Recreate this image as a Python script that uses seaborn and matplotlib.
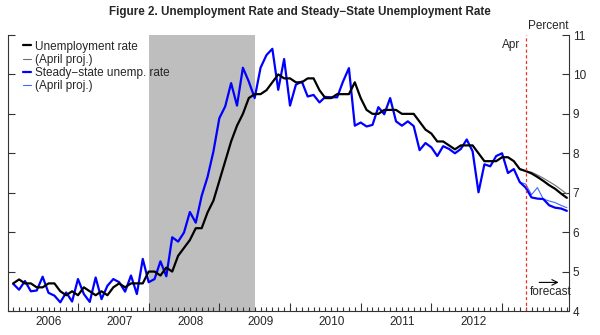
import numpy as np
import pandas as pd
import matplotlib
matplotlib.use("Agg")
import matplotlib.pyplot as plt
import seaborn as sns

# Monthly series (percent), January 2006 through November 2013
first_month = "2006-01"
unemployment_rate = [
    4.7, 4.8, 4.7, 4.7, 4.6, 4.6, 4.7, 4.7, 4.5, 4.4, 4.5, 4.4,        # 2006
    4.6, 4.5, 4.4, 4.5, 4.4, 4.6, 4.7, 4.6, 4.7, 4.7, 4.7, 5.0,        # 2007
    5.0, 4.9, 5.1, 5.0, 5.4, 5.6, 5.8, 6.1, 6.1, 6.5, 6.8, 7.3,        # 2008
    7.8, 8.3, 8.7, 9.0, 9.4, 9.5, 9.5, 9.6, 9.8, 10.0, 9.9, 9.9,       # 2009
    9.8, 9.8, 9.9, 9.9, 9.6, 9.4, 9.4, 9.5, 9.5, 9.5, 9.8, 9.4,        # 2010
    9.1, 9.0, 9.0, 9.1, 9.1, 9.1, 9.0, 9.0, 9.0, 8.8, 8.6, 8.5,        # 2011
    8.3, 8.3, 8.2, 8.1, 8.2, 8.2, 8.2, 8.0, 7.8, 7.8, 7.8, 7.9,        # 2012
    7.9, 7.8, 7.6, 7.55, 7.49, 7.40, 7.30, 7.19, 7.10, 6.98, 6.87,     # 2013
]
steady_state_rate = [
    4.69, 4.54, 4.76, 4.50, 4.52, 4.87, 4.46, 4.39, 4.22, 4.47, 4.24, 4.81,   # 2006
    4.43, 4.23, 4.85, 4.30, 4.64, 4.81, 4.73, 4.49, 4.90, 4.43, 5.32, 4.73,   # 2007
    4.81, 5.26, 4.88, 5.87, 5.76, 5.99, 6.51, 6.24, 6.92, 7.40, 8.05, 8.89,   # 2008
    9.19, 9.78, 9.21, 10.17, 9.82, 9.40, 10.17, 10.49, 10.65, 9.61, 10.39, 9.21,  # 2009
    9.74, 9.82, 9.44, 9.48, 9.29, 9.43, 9.42, 9.42, 9.82, 10.16, 8.70, 8.78,  # 2010
    8.68, 8.72, 9.17, 8.99, 9.40, 8.81, 8.70, 8.81, 8.69, 8.08, 8.26, 8.15,   # 2011
    7.93, 8.18, 8.11, 8.00, 8.11, 8.35, 8.05, 7.01, 7.72, 7.67, 7.93, 8.00,   # 2012
    7.50, 7.60, 7.27, 7.13, 6.88, 6.85, 6.84, 6.68, 6.62, 6.60, 6.54,         # 2013
]

# April projections, March 2013 through November 2013
proj_first_month = "2013-03"
april_proj_unemployment = [7.59, 7.55, 7.52, 7.45, 7.37, 7.28, 7.19, 7.08, 6.97]
april_proj_steady_state = [7.27, 7.22, 6.95, 7.13, 6.84, 6.79, 6.75, 6.68, 6.62]

# NBER recession and the April forecast marker
recession_months = ["2007-12", "2009-06"]
forecast_marker_month = "2013-04"
year_labels = [2006, 2007, 2008, 2009, 2010, 2011, 2012]
y_ticks = [4, 5, 6, 7, 8, 9, 10, 11]


def to_decimal(months):
    """Monthly dates placed at year + month/12."""
    p = pd.PeriodIndex(months, freq="M")
    return p.year + p.month / 12.0


hist = pd.DataFrame({
    "date": to_decimal(pd.period_range(first_month, periods=len(unemployment_rate), freq="M")),
    "unemp": unemployment_rate,
    "steady": steady_state_rate,
})
proj = pd.DataFrame({
    "date": to_decimal(pd.period_range(proj_first_month, periods=len(april_proj_unemployment), freq="M")),
    "unemp": april_proj_unemployment,
    "steady": april_proj_steady_state,
})

sns.set_style("ticks")
plt.rcParams["font.family"] = ["Liberation Sans", "DejaVu Sans"]
plt.rcParams["axes.linewidth"] = 0.8

fig = plt.figure(figsize=(6, 3.35), dpi=100)
ax = fig.add_axes([8 / 600, 24 / 335, 560.5 / 600, 276 / 335])

rec = to_decimal(recession_months)
ax.axvspan(rec[0], rec[1], color="#bebebe", lw=0, zorder=0)

sns.lineplot(data=hist, x="date", y="unemp", ax=ax, color="black", lw=1.6,
             label="Unemployment rate", zorder=5)
sns.lineplot(data=proj, x="date", y="unemp", ax=ax, color="#707070", lw=0.8,
             label="(April proj.)", zorder=4)
sns.lineplot(data=hist, x="date", y="steady", ax=ax, color="#0000ff", lw=1.6,
             label="Steady\u2212state unemp. rate", zorder=3)
sns.lineplot(data=proj, x="date", y="steady", ax=ax, color="#4466ff", lw=0.8,
             label="(April proj.)", zorder=2)

marker_x = to_decimal([forecast_marker_month])[0]
ax.axvline(marker_x, color="#e8302a", lw=0.9, ls=(0, (2.5, 2)), zorder=6)
ax.text(marker_x - 0.08, 10.74, "Apr", ha="right", va="center", fontsize=8.5)

ax.annotate("", xy=(2013.84, 4.725), xytext=(2013.486, 4.725),
            arrowprops=dict(arrowstyle="->", lw=0.8, color="black"))
ax.text(2013.69, 4.48, "forecast", ha="center", va="center", fontsize=8.5)
ax.text(1.0, 1.034, "Percent", ha="right", va="center", fontsize=8.5,
        transform=ax.transAxes)

ax.set_xlim(2006.01, 2013.94)
ax.set_ylim(4, 11)
ax.set_xlabel("")
ax.set_ylabel("")

ax.set_xticks(np.arange(2007, 2014))
minor = [y + m / 12 for y in range(2006, 2014) for m in range(1, 12)]
ax.set_xticks(minor, minor=True)
ax.tick_params(axis="x", which="major", direction="in", length=6, width=0.8,
               labelbottom=False, color="#333333")
ax.tick_params(axis="x", which="minor", direction="in", length=3, width=0.8,
               color="#333333")

sec = ax.secondary_xaxis("bottom")
sec.set_xticks([y + 0.59 for y in year_labels], labels=[str(y) for y in year_labels])
sec.tick_params(length=0, pad=3.5, labelsize=8.5)
sec.spines["bottom"].set_visible(False)

ax.set_yticks(y_ticks)
ax.tick_params(axis="y", direction="in", length=5, width=0.8, left=True, right=True,
               labelleft=False, labelright=True, pad=3, labelsize=8.5, color="#333333")

ax.spines["top"].set_visible(False)
for s in ["left", "right", "bottom"]:
    ax.spines[s].set_color("#333333")

ax.legend(loc="upper left", bbox_to_anchor=(0.0268, 0.98), frameon=False,
          borderpad=0, borderaxespad=0, handlelength=0.7, handletextpad=0.35,
          labelspacing=0.1, fontsize=8.5)

fig.suptitle("Figure 2. Unemployment Rate and Steady\u2212State Unemployment Rate",
             fontsize=8.4, fontweight="bold", y=0.964, va="center")

fig.savefig("out.png", dpi=100)
